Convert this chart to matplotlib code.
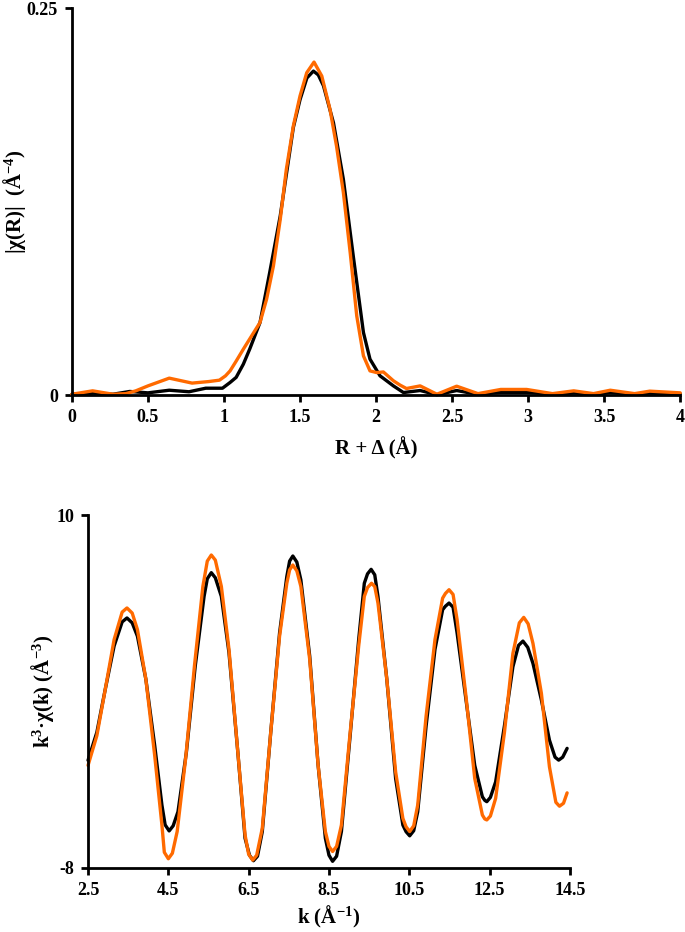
import matplotlib.pyplot as plt

plt.rcParams['font.family'] = ['Liberation Serif', 'DejaVu Serif']
plt.rcParams['font.weight'] = 'bold'
plt.rcParams['mathtext.fontset'] = 'custom'
plt.rcParams['mathtext.rm'] = 'Liberation Serif:bold'
plt.rcParams['mathtext.bf'] = 'Liberation Serif:bold'
plt.rcParams['mathtext.it'] = 'Liberation Serif:bold'

# |chi(R)|
r_black = [0.0, 0.14, 0.27, 0.38, 0.5, 0.64, 0.77, 0.88, 0.99, 1.04, 1.08, 1.127, 1.17,
           1.237, 1.30, 1.37, 1.456, 1.5, 1.545, 1.588, 1.62, 1.654, 1.72, 1.785, 1.85,
           1.917, 1.96, 2.026, 2.114, 2.18, 2.29, 2.4, 2.53, 2.67, 2.82, 2.99, 3.16, 3.3,
           3.43, 3.54, 3.7, 3.8, 4.0]
chi_black = [0.0006, 0.0013, 0.0006, 0.0024, 0.0015, 0.0032, 0.0022, 0.0045, 0.0045, 0.0082,
             0.0115, 0.02, 0.030, 0.047, 0.079, 0.116, 0.173, 0.191, 0.205, 0.2095, 0.207,
             0.200, 0.176, 0.1395, 0.09, 0.0405, 0.0233, 0.0125, 0.006, 0.0017, 0.003,
             0.0003, 0.003, 0.0005, 0.0018, 0.0018, 0.0006, 0.0014, 0.0006, 0.0016, 0.0006,
             0.0013, 0.0008]

r_orange = [0.0, 0.136, 0.27, 0.355, 0.42, 0.5, 0.64, 0.79, 0.9, 0.97, 1.01, 1.04, 1.08,
            1.127, 1.237, 1.28, 1.325, 1.37, 1.41, 1.456, 1.5, 1.544, 1.592, 1.643, 1.697,
            1.74, 1.785, 1.83, 1.873, 1.917, 1.96, 2.004, 2.048, 2.114, 2.158, 2.2, 2.29,
            2.4, 2.53, 2.67, 2.82, 2.99, 3.16, 3.3, 3.43, 3.54, 3.7, 3.8, 4.0]
chi_orange = [0.0006, 0.0028, 0.0006, 0.001, 0.0028, 0.006, 0.011, 0.0078, 0.0088, 0.0097,
              0.0125, 0.0157, 0.0220, 0.0297, 0.047, 0.062, 0.0835, 0.1137, 0.146, 0.174,
              0.1934, 0.2084, 0.2153, 0.2063, 0.1848, 0.161, 0.131, 0.092, 0.0512, 0.0254,
              0.0157, 0.0146, 0.015, 0.0093, 0.0065, 0.0043, 0.006, 0.0006, 0.0058, 0.001,
              0.0037, 0.0037, 0.001, 0.0028, 0.001, 0.0032, 0.001, 0.0026, 0.0015]

# k^3 chi(k)
k_black = [2.5, 2.72, 2.93, 3.15, 3.35, 3.47, 3.6, 3.73, 3.94, 4.16, 4.34, 4.42, 4.52,
           4.62, 4.74, 4.95, 5.17, 5.39, 5.47, 5.57, 5.67, 5.82, 6.01, 6.23, 6.41, 6.52,
           6.62, 6.72, 6.84, 7.05, 7.27, 7.45, 7.52, 7.60, 7.70, 7.80, 8.02, 8.23, 8.41,
           8.5, 8.59, 8.69, 8.81, 9.02, 9.24, 9.38, 9.46, 9.55, 9.64, 9.72, 9.94, 10.16,
           10.34, 10.42, 10.51, 10.61, 10.71, 10.92, 11.14, 11.33, 11.40, 11.49, 11.59,
           11.69, 11.91, 12.13, 12.32, 12.38, 12.43, 12.52, 12.65, 12.87, 13.08, 13.22,
           13.33, 13.45, 13.58, 13.79, 13.99, 14.13, 14.22, 14.32, 14.43]
y_black = [-2.51, -1.08, 1.12, 3.32, 4.55, 4.75, 4.5, 3.82, 1.63, -1.75, -4.79, -5.8, -6.11,
           -5.85, -5.13, -2.09, 2.30, 5.85, 6.75, 7.06, 6.8, 5.85, 2.98, -2.09, -6.48, -7.35,
           -7.63, -7.4, -6.14, -1.08, 3.99, 6.86, 7.65, 7.91, 7.6, 6.69, 2.81, -2.77, -6.48,
           -7.35, -7.66, -7.4, -6.14, -1.41, 3.65, 6.52, 7.0, 7.23, 6.95, 5.85, 1.63, -3.44,
           -5.81, -6.15, -6.36, -6.1, -5.13, -0.74, 3.15, 5.17, 5.35, 5.51, 5.3, 3.99, 0.61,
           -2.77, -4.37, -4.55, -4.62, -4.4, -3.61, -0.74, 2.26, 3.35, 3.57, 3.25, 2.43,
           0.56, -1.48, -2.35, -2.5, -2.35, -1.9]

k_orange = [2.5, 2.72, 2.93, 3.15, 3.35, 3.47, 3.6, 3.73, 3.94, 4.16, 4.34, 4.40, 4.50,
            4.60, 4.72, 4.93, 5.15, 5.36, 5.47, 5.57, 5.67, 5.82, 6.01, 6.23, 6.41, 6.50,
            6.60, 6.70, 6.84, 7.05, 7.27, 7.45, 7.52, 7.60, 7.70, 7.80, 8.02, 8.23, 8.41,
            8.5, 8.59, 8.69, 8.81, 9.02, 9.24, 9.38, 9.46, 9.56, 9.64, 9.72, 9.94, 10.16,
            10.34, 10.42, 10.51, 10.61, 10.71, 10.92, 11.14, 11.33, 11.40, 11.49, 11.59,
            11.69, 11.91, 12.13, 12.32, 12.38, 12.43, 12.52, 12.65, 12.87, 13.08, 13.24,
            13.35, 13.46, 13.58, 13.79, 13.99, 14.15, 14.24, 14.34, 14.43]
y_orange = [-2.77, -1.25, 1.12, 3.65, 5.05, 5.26, 5.0, 4.16, 1.63, -2.26, -5.81, -7.2,
            -7.53, -7.25, -6.14, -2.43, 2.30, 6.36, 7.65, 7.96, 7.7, 6.36, 3.15, -2.09,
            -6.31, -7.3, -7.6, -7.35, -5.97, -1.08, 3.82, 6.52, 7.2, 7.45, 7.15, 6.36, 2.64,
            -2.77, -6.14, -6.9, -7.16, -6.9, -5.81, -1.25, 3.32, 5.85, 6.3, 6.52, 6.35, 5.51,
            1.63, -3.10, -5.47, -5.9, -6.14, -5.85, -4.79, -0.23, 3.65, 5.76, 6.0, 6.19,
            5.95, 4.67, 0.78, -3.44, -5.30, -5.5, -5.55, -5.35, -4.45, -1.08, 2.94, 4.5,
            4.78, 4.45, 3.45, 0.90, -2.84, -4.65, -4.85, -4.7, -4.17]

r_ticks = [0, 0.5, 1, 1.5, 2, 2.5, 3, 3.5, 4]
r_tick_labels = ['0', '0.5', '1', '1.5', '2', '2.5', '3', '3.5', '4']
k_ticks = [2.5, 4.5, 6.5, 8.5, 10.5, 12.5, 14.5]
k_tick_labels = ['2.5', '4.5', '6.5', '8.5', '10.5', '12.5', '14.5']

black = '#000000'
orange = '#FF6A00'
line_kw = dict(linewidth=2.4, solid_joinstyle='round', solid_capstyle='round', clip_on=False)

fig = plt.figure(figsize=(6.85, 9.32), dpi=100)
ax1 = fig.add_axes([0.105, 0.576, 0.888, 0.415])
ax2 = fig.add_axes([0.1285, 0.0687, 0.7035, 0.3787])

# top panel: Fourier transform magnitude
ax1.plot(r_black, chi_black, color=black, **line_kw)
ax1.plot(r_orange, chi_orange, color=orange, **line_kw)
ax1.set_xlim(0, 4)
ax1.set_ylim(0, 0.25)
ax1.set_xticks(r_ticks)
ax1.set_xticklabels(r_tick_labels)
ax1.set_yticks([0, 0.25])
ax1.set_yticklabels(['0', '0.25'])
ax1.set_xlabel('R + Δ (Å)', fontsize=15, fontweight='bold', labelpad=8)
ax1.set_ylabel('|χ(R)|  (Å$^{-4}$)', fontsize=15, fontweight='bold')
ax1.yaxis.set_label_coords(-0.072, 0.5)

# bottom panel: k-space
ax2.plot(k_black, y_black, color=black, **line_kw)
ax2.plot(k_orange, y_orange, color=orange, **line_kw)
ax2.set_xlim(2.5, 14.5)
ax2.set_ylim(-8, 10)
ax2.set_xticks(k_ticks)
ax2.set_xticklabels(k_tick_labels)
ax2.set_yticks([-8, 10])
ax2.set_yticklabels(['-8', '10'])
ax2.set_xlabel('k (Å$^{-1}$)', fontsize=15, fontweight='bold', labelpad=4)
ax2.set_ylabel('k$^{3}$·χ(k) (Å$^{-3}$)', fontsize=15, fontweight='bold')
ax2.yaxis.set_label_coords(-0.066, 0.5)

for ax in (ax1, ax2):
    ax.spines['right'].set_visible(False)
    ax.spines['top'].set_visible(False)
    ax.spines['left'].set_linewidth(2)
    ax.spines['bottom'].set_linewidth(2)
    ax.tick_params(axis='both', direction='out', length=5, width=2, labelsize=13, pad=5)
    for lab in ax.get_xticklabels() + ax.get_yticklabels():
        lab.set_fontweight('bold')

fig.savefig('out.png', dpi=100)
